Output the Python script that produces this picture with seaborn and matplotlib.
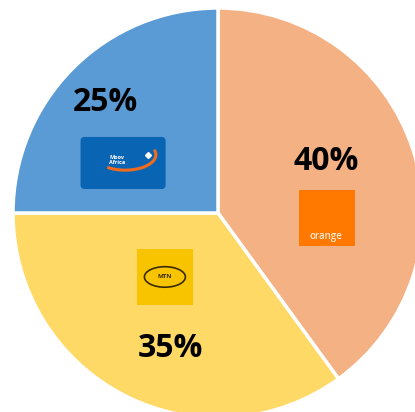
import matplotlib
matplotlib.use("Agg")
import matplotlib.pyplot as plt
import seaborn as sns
from matplotlib.patches import FancyBboxPatch, Rectangle, Ellipse, Arc

operators = ["Orange", "MTN", "Moov Africa"]
shares = [40, 35, 25]
slice_colors = ["#F4B183", "#FFD966", "#5B9BD5"]
share_labels = ["40%", "35%", "25%"]

sns.set_theme(style="white")
plt.rcParams["font.family"] = ["Open Sans", "DejaVu Sans"]

fig = plt.figure(figsize=(4.15, 4.12), dpi=100)
ax = fig.add_axes([0, 0, 1, 1])
ax.pie(
    shares,
    colors=slice_colors,
    startangle=90,
    counterclock=False,
    radius=1,
    wedgeprops=dict(edgecolor="white", linewidth=2.5),
)
ax.set_aspect("auto")
ax.set_xlim(-218 / 205, (415 - 218) / 205)
ax.set_ylim((213 - 412) / 205, 213 / 205)
ax.axis("off")

# percentage labels
label_pos = [(0.527, 0.249), (-0.234, -0.659), (-0.551, 0.541)]
for txt, (x, y) in zip(share_labels, label_pos):
    ax.text(x, y, txt, ha="center", va="center", fontsize=23, fontweight="bold", color="black")

# orange logo
ox, oy, s = 0.532, -0.024, 0.275
ax.add_patch(Rectangle((ox - s / 2, oy - s / 2), s, s, facecolor="#FF7900", edgecolor="none"))
ax.text(ox - 0.005, oy - s / 2 + 0.045, "orange", ha="center", va="center",
        fontsize=7, fontweight="semibold", color="#FFE9D6")

# MTN logo
mx, my, s = -0.259, -0.312, 0.275
ax.add_patch(Rectangle((mx - s / 2, my - s / 2), s, s, facecolor="#F8C400", edgecolor="none"))
ax.add_patch(Ellipse((mx, my), 0.2, 0.1, facecolor="none", edgecolor="#3a2a00", linewidth=1.2))
ax.text(mx, my, "MTN", ha="center", va="center", fontsize=4.5, fontweight="bold", color="#3a2a00")

# Moov Africa logo
vx, vy, w, h = -0.463, 0.244, 0.415, 0.254
ax.add_patch(FancyBboxPatch((vx - w / 2, vy - h / 2), w, h,
                            boxstyle="round,pad=0,rounding_size=0.02",
                            facecolor="#0A64B4", edgecolor="none"))
ax.add_patch(Arc((vx + 0.01, vy + 0.04), 0.3, 0.15, theta1=215, theta2=370,
                 color="#F26B1D", linewidth=2.2))
ax.text(vx - 0.03, vy + 0.015, "Moov\nAfrica", ha="center", va="center",
        fontsize=4, fontweight="bold", color="white", linespacing=1.1)
ax.plot([vx + 0.12], [vy + 0.04], marker="D", markersize=3, color="white")

fig.savefig("out.png", dpi=100)
plt.close(fig)
